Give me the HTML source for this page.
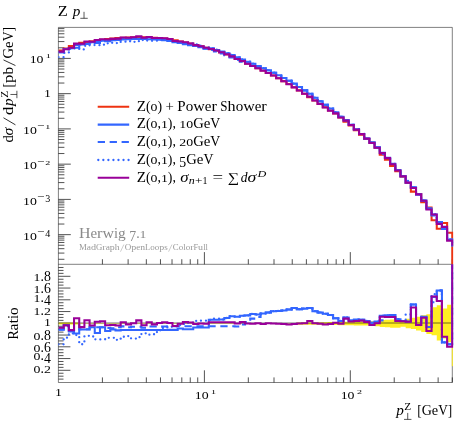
<!DOCTYPE html>
<html><head><meta charset="utf-8"><title>Z pT</title>
<style>html,body{margin:0;padding:0;background:#fff;}svg{display:block;will-change:transform;}text{font-family:"Liberation Serif",serif;}</style></head>
<body>
<svg width="467" height="422" viewBox="0 0 467 422" font-family="'Liberation Serif', serif">
<rect width="467" height="422" fill="#fff"/>
<defs><clipPath id="cm"><rect x="58.4" y="27.4" width="395" height="236.9"/></clipPath><clipPath id="cr"><rect x="58.4" y="264.3" width="395" height="118.2"/></clipPath></defs>
<path d="M58.4 27.4 H452.3 V382.5 H58.4 Z M58.4 264.3 H452.3" stroke="#000" stroke-width="0.5" fill="none"/>
<path d="M102.42 264.3 v-5.1 M102.42 382.5 v-5.1 M128.11 264.3 v-5.1 M128.11 382.5 v-5.1 M146.34 264.3 v-5.1 M146.34 382.5 v-5.1 M160.48 264.3 v-5.1 M160.48 382.5 v-5.1 M172.03 264.3 v-5.1 M172.03 382.5 v-5.1 M181.8 264.3 v-5.1 M181.8 382.5 v-5.1 M190.26 264.3 v-5.1 M190.26 382.5 v-5.1 M197.72 264.3 v-5.1 M197.72 382.5 v-5.1 M204.4 264.3 v-12.2 M204.4 382.5 v-12.2 M248.32 264.3 v-5.1 M248.32 382.5 v-5.1 M274.01 264.3 v-5.1 M274.01 382.5 v-5.1 M292.24 264.3 v-5.1 M292.24 382.5 v-5.1 M306.38 264.3 v-5.1 M306.38 382.5 v-5.1 M317.93 264.3 v-5.1 M317.93 382.5 v-5.1 M327.7 264.3 v-5.1 M327.7 382.5 v-5.1 M336.16 264.3 v-5.1 M336.16 382.5 v-5.1 M343.62 264.3 v-5.1 M343.62 382.5 v-5.1 M350.3 264.3 v-12.2 M350.3 382.5 v-12.2 M394.22 264.3 v-5.1 M394.22 382.5 v-5.1 M419.91 264.3 v-5.1 M419.91 382.5 v-5.1 M438.14 264.3 v-5.1 M438.14 382.5 v-5.1 M452.28 264.3 v-5.1 M452.28 382.5 v-5.1 M58.4 259.29 h6 M58.4 253.08 h6 M58.4 248.68 h6 M58.4 245.26 h6 M58.4 242.47 h6 M58.4 240.11 h6 M58.4 238.07 h6 M58.4 236.26 h6 M58.4 234.65 h12.4 M58.4 224.04 h6 M58.4 217.83 h6 M58.4 213.43 h6 M58.4 210.01 h6 M58.4 207.22 h6 M58.4 204.86 h6 M58.4 202.82 h6 M58.4 201.01 h6 M58.4 199.4 h12.4 M58.4 188.79 h6 M58.4 182.58 h6 M58.4 178.18 h6 M58.4 174.76 h6 M58.4 171.97 h6 M58.4 169.61 h6 M58.4 167.57 h6 M58.4 165.76 h6 M58.4 164.15 h12.4 M58.4 153.54 h6 M58.4 147.33 h6 M58.4 142.93 h6 M58.4 139.51 h6 M58.4 136.72 h6 M58.4 134.36 h6 M58.4 132.32 h6 M58.4 130.51 h6 M58.4 128.9 h12.4 M58.4 118.29 h6 M58.4 112.08 h6 M58.4 107.68 h6 M58.4 104.26 h6 M58.4 101.47 h6 M58.4 99.11 h6 M58.4 97.07 h6 M58.4 95.26 h6 M58.4 93.65 h12.4 M58.4 83.04 h6 M58.4 76.83 h6 M58.4 72.43 h6 M58.4 69.01 h6 M58.4 66.22 h6 M58.4 63.86 h6 M58.4 61.82 h6 M58.4 60.01 h6 M58.4 58.4 h12.4 M58.4 47.79 h6 M58.4 41.58 h6 M58.4 37.18 h6 M58.4 33.76 h6 M58.4 30.97 h6 M58.4 28.61 h6 M58.4 379.11 h5.1 M58.4 376.18 h5.1 M58.4 373.24 h5.1 M58.4 370.3 h12 M58.4 367.36 h5.1 M58.4 364.43 h5.1 M58.4 361.49 h5.1 M58.4 358.55 h12 M58.4 355.61 h5.1 M58.4 352.68 h5.1 M58.4 349.74 h5.1 M58.4 346.8 h12 M58.4 343.86 h5.1 M58.4 340.93 h5.1 M58.4 337.99 h5.1 M58.4 335.05 h12 M58.4 332.11 h5.1 M58.4 329.18 h5.1 M58.4 326.24 h5.1 M58.4 323.3 h12 M58.4 320.36 h5.1 M58.4 317.43 h5.1 M58.4 314.49 h5.1 M58.4 311.55 h12 M58.4 308.61 h5.1 M58.4 305.68 h5.1 M58.4 302.74 h5.1 M58.4 299.8 h12 M58.4 296.86 h5.1 M58.4 293.93 h5.1 M58.4 290.99 h5.1 M58.4 288.05 h12 M58.4 285.11 h5.1 M58.4 282.18 h5.1 M58.4 279.24 h5.1 M58.4 276.3 h12 M58.4 273.36 h5.1 M58.4 270.43 h5.1 M58.4 267.49 h5.1" stroke="#000" stroke-width="0.68" fill="none"/>
<g clip-path="url(#cr)">
<path d="M58.5 322.49 L63.68 322.49 L63.68 322.49 L68.86 322.49 L68.86 322.49 L74.04 322.49 L74.04 322.49 L79.23 322.49 L79.23 323.26 L84.41 323.26 L84.41 323.26 L89.59 323.26 L89.59 323.26 L94.77 323.26 L94.77 323.26 L99.95 323.26 L99.95 323.26 L105.13 323.26 L105.13 323.26 L110.32 323.26 L110.32 323.26 L115.5 323.26 L115.5 323.26 L120.68 323.26 L120.68 323.26 L125.86 323.26 L125.86 323.26 L131.04 323.26 L131.04 323.26 L136.22 323.26 L136.22 323.26 L141.41 323.26 L141.41 323.26 L146.59 323.26 L146.59 323.26 L151.77 323.26 L151.77 323.26 L156.95 323.26 L156.95 323.26 L162.13 323.26 L162.13 323.26 L167.31 323.26 L167.31 323.26 L172.49 323.26 L172.49 323.26 L177.68 323.26 L177.68 323.26 L182.86 323.26 L182.86 323.26 L188.04 323.26 L188.04 323.26 L193.22 323.26 L193.22 323.26 L198.4 323.26 L198.4 323.26 L203.58 323.26 L203.58 323.26 L208.77 323.26 L208.77 323.26 L213.95 323.26 L213.95 323.26 L219.13 323.26 L219.13 323.26 L224.31 323.26 L224.31 323.26 L229.49 323.26 L229.49 323.26 L234.67 323.26 L234.67 323.26 L239.86 323.26 L239.86 323.26 L245.04 323.26 L245.04 323.26 L250.22 323.26 L250.22 323.26 L255.4 323.26 L255.4 323.26 L260.58 323.26 L260.58 323.26 L265.76 323.26 L265.76 323.26 L270.94 323.26 L270.94 323.26 L276.13 323.26 L276.13 323.26 L281.31 323.26 L281.31 323.26 L286.49 323.26 L286.49 323.26 L291.67 323.26 L291.67 323.26 L296.85 323.26 L296.85 322.38 L302.03 322.38 L302.03 322.38 L307.22 322.38 L307.22 322.38 L312.4 322.38 L312.4 322.38 L317.58 322.38 L317.58 322.26 L322.76 322.26 L322.76 322.26 L327.94 322.26 L327.94 322.08 L333.12 322.08 L333.12 322.08 L338.31 322.08 L338.31 321.91 L343.49 321.91 L343.49 321.79 L348.67 321.79 L348.67 321.79 L353.85 321.79 L353.85 321.67 L359.03 321.67 L359.03 321.49 L364.21 321.49 L364.21 321.49 L369.39 321.49 L369.39 321.2 L374.58 321.2 L374.58 320.91 L379.76 320.91 L379.76 320.03 L384.94 320.03 L384.94 319.73 L390.12 319.73 L390.12 319.44 L395.3 319.44 L395.3 319.44 L400.48 319.44 L400.48 320.32 L405.67 320.32 L405.67 318.85 L410.85 318.85 L410.85 317.68 L416.03 317.68 L416.03 316.79 L421.21 316.79 L421.21 315.32 L426.39 315.32 L426.39 314.15 L431.57 314.15 L431.57 307.34 L436.76 307.34 L436.76 305.34 L441.94 305.34 L441.94 308.57 L447.12 308.57 L447.12 304.75 L452.3 304.75 L452.3 342.35 L447.12 342.35 L447.12 338.53 L441.94 338.53 L441.94 340.59 L436.76 340.59 L436.76 335.3 L431.57 335.3 L431.57 334.12 L426.39 334.12 L426.39 331.95 L421.21 331.95 L421.21 330.6 L416.03 330.6 L416.03 329.07 L410.85 329.07 L410.85 328.37 L405.67 328.37 L405.67 326.78 L400.48 326.78 L400.48 327.66 L395.3 327.66 L395.3 327.66 L390.12 327.66 L390.12 327.37 L384.94 327.37 L384.94 327.07 L379.76 327.07 L379.76 326.19 L374.58 326.19 L374.58 325.9 L369.39 325.9 L369.39 325.61 L364.21 325.61 L364.21 325.61 L359.03 325.61 L359.03 325.43 L353.85 325.43 L353.85 325.31 L348.67 325.31 L348.67 325.31 L343.49 325.31 L343.49 325.19 L338.31 325.19 L338.31 325.02 L333.12 325.02 L333.12 325.02 L327.94 325.02 L327.94 324.84 L322.76 324.84 L322.76 324.84 L317.58 324.84 L317.58 324.73 L312.4 324.73 L312.4 324.73 L307.22 324.73 L307.22 324.73 L302.03 324.73 L302.03 324.73 L296.85 324.73 L296.85 323.84 L291.67 323.84 L291.67 323.84 L286.49 323.84 L286.49 323.84 L281.31 323.84 L281.31 323.84 L276.13 323.84 L276.13 323.84 L270.94 323.84 L270.94 323.84 L265.76 323.84 L265.76 323.84 L260.58 323.84 L260.58 323.84 L255.4 323.84 L255.4 323.84 L250.22 323.84 L250.22 323.84 L245.04 323.84 L245.04 323.84 L239.86 323.84 L239.86 323.84 L234.67 323.84 L234.67 323.84 L229.49 323.84 L229.49 323.84 L224.31 323.84 L224.31 323.84 L219.13 323.84 L219.13 323.84 L213.95 323.84 L213.95 323.84 L208.77 323.84 L208.77 323.84 L203.58 323.84 L203.58 323.84 L198.4 323.84 L198.4 323.84 L193.22 323.84 L193.22 323.84 L188.04 323.84 L188.04 323.84 L182.86 323.84 L182.86 323.84 L177.68 323.84 L177.68 323.84 L172.49 323.84 L172.49 323.84 L167.31 323.84 L167.31 323.84 L162.13 323.84 L162.13 323.84 L156.95 323.84 L156.95 323.84 L151.77 323.84 L151.77 323.84 L146.59 323.84 L146.59 323.84 L141.41 323.84 L141.41 323.84 L136.22 323.84 L136.22 323.84 L131.04 323.84 L131.04 323.84 L125.86 323.84 L125.86 323.84 L120.68 323.84 L120.68 323.84 L115.5 323.84 L115.5 323.84 L110.32 323.84 L110.32 323.84 L105.13 323.84 L105.13 323.84 L99.95 323.84 L99.95 323.84 L94.77 323.84 L94.77 323.84 L89.59 323.84 L89.59 323.84 L84.41 323.84 L84.41 323.84 L79.23 323.84 L79.23 324.61 L74.04 324.61 L74.04 324.61 L68.86 324.61 L68.86 324.61 L63.68 324.61 L63.68 324.61 L58.5 324.61Z" fill="#ffee22"/>
<path d="M452.3 302.74 V366.19" stroke="#ffee22" stroke-width="1" fill="none"/>
<path d="M58.4 323 H452.3" stroke="#000" stroke-width="0.55" fill="none"/>
<path d="M58.5 329.53 L63.68 329.53 L63.68 325.06 L68.86 325.06 L68.86 331.47 L74.04 331.47 L74.04 333.41 L79.23 333.41 L79.23 329.53 L84.41 329.53 L84.41 329.53 L89.59 329.53 L89.59 327.3 L94.77 327.3 L94.77 332.99 L99.95 332.99 L99.95 327.3 L105.13 327.3 L105.13 331.06 L110.32 331.06 L110.32 329.47 L115.5 329.47 L115.5 330.35 L120.68 330.35 L120.68 330.06 L125.86 330.06 L125.86 330 L131.04 330 L131.04 330 L136.22 330 L136.22 330 L141.41 330 L141.41 330 L146.59 330 L146.59 330 L151.77 330 L151.77 330 L156.95 330 L156.95 330 L162.13 330 L162.13 330 L167.31 330 L167.31 329.88 L172.49 329.88 L172.49 329.88 L177.68 329.88 L177.68 328.59 L182.86 328.59 L182.86 329.18 L188.04 329.18 L188.04 329.18 L193.22 329.18 L193.22 327.41 L198.4 327.41 L198.4 327.41 L203.58 327.41 L203.58 327.41 L208.77 327.41 L208.77 319.78 L213.95 319.78 L213.95 319.78 L219.13 319.78 L219.13 319.48 L224.31 319.48 L224.31 318.01 L229.49 318.01 L229.49 316.25 L234.67 316.25 L234.67 316.72 L239.86 316.72 L239.86 315.66 L245.04 315.66 L245.04 315.37 L250.22 315.37 L250.22 313.9 L255.4 313.9 L255.4 314.49 L260.58 314.49 L260.58 313.55 L265.76 313.55 L265.76 312.49 L270.94 312.49 L270.94 311.2 L276.13 311.2 L276.13 310.96 L281.31 310.96 L281.31 310.55 L286.49 310.55 L286.49 309.49 L291.67 309.49 L291.67 308.03 L296.85 308.03 L296.85 309.2 L302.03 309.2 L302.03 308.61 L307.22 308.61 L307.22 308.03 L312.4 308.03 L312.4 311.2 L317.58 311.2 L317.58 312.49 L322.76 312.49 L322.76 313.78 L327.94 313.78 L327.94 315.08 L333.12 315.08 L333.12 318.31 L338.31 318.31 L338.31 320.95 L343.49 320.95 L343.49 317.43 L348.67 317.43 L348.67 320.6 L353.85 320.6 L353.85 319.6 L359.03 319.6 L359.03 319.78 L364.21 319.78 L364.21 320.95 L369.39 320.95 L369.39 322.71 L374.58 322.71 L374.58 321.54 L379.76 321.54 L379.76 315.66 L384.94 315.66 L384.94 315.49 L390.12 315.49 L390.12 315.08 L395.3 315.08 L395.3 319.19 L400.48 319.19 L400.48 320.95 L405.67 320.95 L405.67 321.54 L410.85 321.54 L410.85 304.5 L416.03 304.5 L416.03 325.06 L421.21 325.06 L421.21 316.84 L426.39 316.84 L426.39 327 L431.57 327 L431.57 296.86 L436.76 296.86 L436.76 290.4 L441.94 290.4 L441.94 342.39 L447.12 342.39 L447.12 344.16 L452.3 344.16 L452.3 235.18" stroke="#3366ff" fill="none" stroke-width="2.05" stroke-linejoin="miter"/>
<path d="M58.5 329.76 L63.68 329.76 L63.68 326.24 L68.86 326.24 L68.86 330.94 L74.04 330.94 L74.04 324.06 L79.23 324.06 L79.23 329.18 L84.41 329.18 L84.41 329.18 L89.59 329.18 L89.59 327.3 L94.77 327.3 L94.77 327.3 L99.95 327.3 L99.95 327.3 L105.13 327.3 L105.13 328 L110.32 328 L110.32 328.29 L115.5 328.29 L115.5 327.3 L120.68 327.3 L120.68 326.36 L125.86 326.36 L125.86 327.3 L131.04 327.3 L131.04 326.82 L136.22 326.82 L136.22 326.82 L141.41 326.82 L141.41 327.71 L146.59 327.71 L146.59 326.53 L151.77 326.53 L151.77 326.53 L156.95 326.53 L156.95 326.82 L162.13 326.82 L162.13 326.53 L167.31 326.53 L167.31 326.24 L172.49 326.24 L172.49 326.24 L177.68 326.24 L177.68 326.24 L182.86 326.24 L182.86 326.24 L188.04 326.24 L188.04 326.24 L193.22 326.24 L193.22 326.24 L198.4 326.24 L198.4 326.24 L203.58 326.24 L203.58 326.24 L208.77 326.24 L208.77 326.24 L213.95 326.24 L213.95 326.24 L219.13 326.24 L219.13 326.24 L224.31 326.24 L224.31 326.24 L229.49 326.24 L229.49 326.24 L234.67 326.24 L234.67 326.53 L239.86 326.53 L239.86 324.48 L245.04 324.48 L245.04 322.12 L250.22 322.12 L250.22 318.6 L255.4 318.6 L255.4 317.01 L260.58 317.01 L260.58 313.55 L265.76 313.55 L265.76 312.49 L270.94 312.49 L270.94 311.2 L276.13 311.2 L276.13 310.96 L281.31 310.96 L281.31 310.55 L286.49 310.55 L286.49 309.49 L291.67 309.49 L291.67 308.03 L296.85 308.03 L296.85 309.2 L302.03 309.2 L302.03 308.61 L307.22 308.61 L307.22 308.03 L312.4 308.03 L312.4 311.2 L317.58 311.2 L317.58 312.49 L322.76 312.49 L322.76 313.78 L327.94 313.78 L327.94 315.08 L333.12 315.08 L333.12 318.31 L338.31 318.31 L338.31 320.95 L343.49 320.95 L343.49 317.43 L348.67 317.43 L348.67 320.6 L353.85 320.6 L353.85 319.6 L359.03 319.6 L359.03 319.78 L364.21 319.78 L364.21 320.95 L369.39 320.95 L369.39 322.71 L374.58 322.71 L374.58 321.54 L379.76 321.54 L379.76 320.36 L384.94 320.36 L384.94 315.49 L390.12 315.49 L390.12 315.08 L395.3 315.08 L395.3 319.19 L400.48 319.19 L400.48 320.95 L405.67 320.95 L405.67 321.54 L410.85 321.54 L410.85 304.5 L416.03 304.5 L416.03 325.06 L421.21 325.06 L421.21 316.84 L426.39 316.84 L426.39 327 L431.57 327 L431.57 302.15 L436.76 302.15 L436.76 290.4 L441.94 290.4 L441.94 342.39 L447.12 342.39 L447.12 344.16 L452.3 344.16 L452.3 235.18" stroke="#3366ff" fill="none" stroke-width="2.05" stroke-linejoin="miter" stroke-dasharray="7.3 4.65"/>
<path d="M58.5 344.33 L63.68 344.33 L63.68 337.69 L68.86 337.69 L68.86 333.46 L74.04 333.46 L74.04 335.05 L79.23 335.05 L79.23 344.27 L84.41 344.27 L84.41 335.81 L89.59 335.81 L89.59 336.52 L94.77 336.52 L94.77 339.34 L99.95 339.34 L99.95 339.46 L105.13 339.46 L105.13 337.87 L110.32 337.87 L110.32 337.87 L115.5 337.87 L115.5 339.87 L120.68 339.87 L120.68 336.75 L125.86 336.75 L125.86 336.11 L131.04 336.11 L131.04 338.57 L136.22 338.57 L136.22 337.22 L141.41 337.22 L141.41 333.29 L146.59 333.29 L146.59 334.64 L151.77 334.64 L151.77 334.23 L156.95 334.23 L156.95 330.35 L162.13 330.35 L162.13 328 L167.31 328 L167.31 326.82 L172.49 326.82 L172.49 326.24 L177.68 326.24 L177.68 325.06 L182.86 325.06 L182.86 323.89 L188.04 323.89 L188.04 322.71 L193.22 322.71 L193.22 320.95 L198.4 320.95 L198.4 320.66 L203.58 320.66 L203.58 320.66 L208.77 320.66 L208.77 319.78 L213.95 319.78 L213.95 318.6 L219.13 318.6 L219.13 319.48 L224.31 319.48 L224.31 318.01 L229.49 318.01 L229.49 316.25 L234.67 316.25 L234.67 316.72 L239.86 316.72 L239.86 315.66 L245.04 315.66 L245.04 315.37 L250.22 315.37 L250.22 313.9 L255.4 313.9 L255.4 314.49 L260.58 314.49 L260.58 313.55 L265.76 313.55 L265.76 312.49 L270.94 312.49 L270.94 311.2 L276.13 311.2 L276.13 310.96 L281.31 310.96 L281.31 310.55 L286.49 310.55 L286.49 309.49 L291.67 309.49 L291.67 308.03 L296.85 308.03 L296.85 309.2 L302.03 309.2 L302.03 308.61 L307.22 308.61 L307.22 308.03 L312.4 308.03 L312.4 311.2 L317.58 311.2 L317.58 312.49 L322.76 312.49 L322.76 313.78 L327.94 313.78 L327.94 315.08 L333.12 315.08 L333.12 318.31 L338.31 318.31 L338.31 320.95 L343.49 320.95 L343.49 317.43 L348.67 317.43 L348.67 320.6 L353.85 320.6 L353.85 319.6 L359.03 319.6 L359.03 319.78 L364.21 319.78 L364.21 320.95 L369.39 320.95 L369.39 322.71 L374.58 322.71 L374.58 321.54 L379.76 321.54 L379.76 315.66 L384.94 315.66 L384.94 315.49 L390.12 315.49 L390.12 315.08 L395.3 315.08 L395.3 319.19 L400.48 319.19 L400.48 320.95 L405.67 320.95 L405.67 314.49 L410.85 314.49 L410.85 304.5 L416.03 304.5 L416.03 325.06 L421.21 325.06 L421.21 316.84 L426.39 316.84 L426.39 327 L431.57 327 L431.57 294.22 L436.76 294.22 L436.76 290.4 L441.94 290.4 L441.94 342.39 L447.12 342.39 L447.12 344.16 L452.3 344.16 L452.3 235.18" stroke="#3366ff" fill="none" stroke-width="2.3" stroke-linejoin="miter" stroke-dasharray="0.01 5.03" stroke-linecap="round"/>
<path d="M58.5 327.76 L63.68 327.76 L63.68 325.36 L68.86 325.36 L68.86 330.12 L74.04 330.12 L74.04 318.31 L79.23 318.31 L79.23 327.12 L84.41 327.12 L84.41 320.19 L89.59 320.19 L89.59 325.47 L94.77 325.47 L94.77 321.83 L99.95 321.83 L99.95 321.24 L105.13 321.24 L105.13 325.18 L110.32 325.18 L110.32 325.06 L115.5 325.06 L115.5 325.53 L120.68 325.53 L120.68 322.24 L125.86 322.24 L125.86 324.36 L131.04 324.36 L131.04 323.3 L136.22 323.3 L136.22 320.36 L141.41 320.36 L141.41 325.24 L146.59 325.24 L146.59 322.24 L151.77 322.24 L151.77 324.36 L156.95 324.36 L156.95 323.06 L162.13 323.06 L162.13 322.24 L167.31 322.24 L167.31 323.06 L172.49 323.06 L172.49 326 L177.68 326 L177.68 323.71 L182.86 323.71 L182.86 322.12 L188.04 322.12 L188.04 322.42 L193.22 322.42 L193.22 324.06 L198.4 324.06 L198.4 323.54 L203.58 323.54 L203.58 323.71 L208.77 323.71 L208.77 322.3 L213.95 322.3 L213.95 322.3 L219.13 322.3 L219.13 322.3 L224.31 322.3 L224.31 322.3 L229.49 322.3 L229.49 322.3 L234.67 322.3 L234.67 323.59 L239.86 323.59 L239.86 322.12 L245.04 322.12 L245.04 323.42 L250.22 323.42 L250.22 323.71 L255.4 323.71 L255.4 323.3 L260.58 323.3 L260.58 324.06 L265.76 324.06 L265.76 323.3 L270.94 323.3 L270.94 323.42 L276.13 323.42 L276.13 323.71 L281.31 323.71 L281.31 324.06 L286.49 324.06 L286.49 324.48 L291.67 324.48 L291.67 324.06 L296.85 324.06 L296.85 323.42 L302.03 323.42 L302.03 323.3 L307.22 323.3 L307.22 320.95 L312.4 320.95 L312.4 323.3 L317.58 323.3 L317.58 323.71 L322.76 323.71 L322.76 324.48 L327.94 324.48 L327.94 324.06 L333.12 324.06 L333.12 322.71 L338.31 322.71 L338.31 323.71 L343.49 323.71 L343.49 318.6 L348.67 318.6 L348.67 321.54 L353.85 321.54 L353.85 320.95 L359.03 320.95 L359.03 320.6 L364.21 320.6 L364.21 321.89 L369.39 321.89 L369.39 325.06 L374.58 325.06 L374.58 323.3 L379.76 323.3 L379.76 316.84 L384.94 316.84 L384.94 317.01 L390.12 317.01 L390.12 317.01 L395.3 317.01 L395.3 320.95 L400.48 320.95 L400.48 321.24 L405.67 321.24 L405.67 321.83 L410.85 321.83 L410.85 307.44 L416.03 307.44 L416.03 325.06 L421.21 325.06 L421.21 317.72 L426.39 317.72 L426.39 331.06 L431.57 331.06 L431.57 296.57 L436.76 296.57 L436.76 300.98 L441.94 300.98 L441.94 336.69 L447.12 336.69 L447.12 346.8 L452.3 346.8 L452.3 235.18" stroke="#990099" fill="none" stroke-width="2.05" stroke-linejoin="miter"/>
</g>
<g clip-path="url(#cm)">
<path d="M58.5 50.4 L63.68 50.4 L63.68 48.61 L68.86 48.61 L68.86 45.92 L74.04 45.92 L74.04 44.88 L79.23 44.88 L79.23 42.7 L84.41 42.7 L84.41 42.2 L89.59 42.2 L89.59 41.2 L94.77 41.2 L94.77 40.31 L99.95 40.31 L99.95 39.71 L105.13 39.71 L105.13 39 L110.32 39 L110.32 38.4 L115.5 38.4 L115.5 38.04 L120.68 38.04 L120.68 37.69 L125.86 37.69 L125.86 37.46 L131.04 37.46 L131.04 37.23 L136.22 37.23 L136.22 37.01 L141.41 37.01 L141.41 37.16 L146.59 37.16 L146.59 37.34 L151.77 37.34 L151.77 37.66 L156.95 37.66 L156.95 37.98 L162.13 37.98 L162.13 38.45 L167.31 38.45 L167.31 39.12 L172.49 39.12 L172.49 40.36 L177.68 40.36 L177.68 41.48 L182.86 41.48 L182.86 42.54 L188.04 42.54 L188.04 43.63 L193.22 43.63 L193.22 44.92 L198.4 44.92 L198.4 46.2 L203.58 46.2 L203.58 47.66 L208.77 47.66 L208.77 49.2 L213.95 49.2 L213.95 50.79 L219.13 50.79 L219.13 52.56 L224.31 52.56 L224.31 54.53 L229.49 54.53 L229.49 56.64 L234.67 56.64 L234.67 58.98 L239.86 58.98 L239.86 61.33 L245.04 61.33 L245.04 63.64 L250.22 63.64 L250.22 65.92 L255.4 65.92 L255.4 68.23 L260.58 68.23 L260.58 70.58 L265.76 70.58 L265.76 72.93 L270.94 72.93 L270.94 75.53 L276.13 75.53 L276.13 78.21 L281.31 78.21 L281.31 81.1 L286.49 81.1 L286.49 83.99 L291.67 83.99 L291.67 87.18 L296.85 87.18 L296.85 90.37 L302.03 90.37 L302.03 93.78 L307.22 93.78 L307.22 97.2 L312.4 97.2 L312.4 100.54 L317.58 100.54 L317.58 103.88 L322.76 103.88 L322.76 107.17 L327.94 107.17 L327.94 110.46 L333.12 110.46 L333.12 113.5 L338.31 113.5 L338.31 117.4 L343.49 117.4 L343.49 121.8 L348.67 121.8 L348.67 125.5 L353.85 125.5 L353.85 130.2 L359.03 130.2 L359.03 134.8 L364.21 134.8 L364.21 139 L369.39 139 L369.39 142.6 L374.58 142.6 L374.58 147.8 L379.76 147.8 L379.76 154.7 L384.94 154.7 L384.94 159.7 L390.12 159.7 L390.12 165.9 L395.3 165.9 L395.3 171.1 L400.48 171.1 L400.48 176.7 L405.67 176.7 L405.67 183 L410.85 183 L410.85 191.6 L416.03 191.6 L416.03 193.9 L421.21 193.9 L421.21 202.2 L426.39 202.2 L426.39 207.4 L431.57 207.4 L431.57 220.3 L436.76 220.3 L436.76 228.8 L441.94 228.8 L441.94 222.9 L447.12 222.9 L447.12 232.8 L452.3 232.8 L452.3 269.3" stroke="#ee3311" fill="none" stroke-width="2.05" stroke-linejoin="miter"/>
<path d="M58.5 52.12 L63.68 52.12 L63.68 49.08 L68.86 49.08 L68.86 48.22 L74.04 48.22 L74.04 47.77 L79.23 47.77 L79.23 44.41 L84.41 44.41 L84.41 43.92 L89.59 43.92 L89.59 42.28 L94.77 42.28 L94.77 43.07 L99.95 43.07 L99.95 40.78 L105.13 40.78 L105.13 41.16 L110.32 41.16 L110.32 40.1 L115.5 40.1 L115.5 40 L120.68 40 L120.68 39.56 L125.86 39.56 L125.86 39.31 L131.04 39.31 L131.04 39.09 L136.22 39.09 L136.22 38.86 L141.41 38.86 L141.41 39.01 L146.59 39.01 L146.59 39.19 L151.77 39.19 L151.77 39.52 L156.95 39.52 L156.95 39.84 L162.13 39.84 L162.13 40.3 L167.31 40.3 L167.31 40.94 L172.49 40.94 L172.49 42.18 L177.68 42.18 L177.68 42.93 L182.86 42.93 L182.86 44.15 L188.04 44.15 L188.04 45.24 L193.22 45.24 L193.22 46.03 L198.4 46.03 L198.4 47.31 L203.58 47.31 L203.58 48.77 L208.77 48.77 L208.77 48.31 L213.95 48.31 L213.95 49.9 L219.13 49.9 L219.13 51.6 L224.31 51.6 L224.31 53.21 L229.49 53.21 L229.49 54.9 L234.67 54.9 L234.67 57.36 L239.86 57.36 L239.86 59.46 L245.04 59.46 L245.04 61.7 L250.22 61.7 L250.22 63.65 L255.4 63.65 L255.4 66.09 L260.58 66.09 L260.58 68.23 L265.76 68.23 L265.76 70.34 L270.94 70.34 L270.94 72.67 L276.13 72.67 L276.13 75.29 L281.31 75.29 L281.31 78.09 L286.49 78.09 L286.49 80.76 L291.67 80.76 L291.67 83.64 L296.85 83.64 L296.85 87.07 L302.03 87.07 L302.03 90.37 L307.22 90.37 L307.22 93.67 L312.4 93.67 L312.4 97.67 L317.58 97.67 L317.58 101.29 L322.76 101.29 L322.76 104.87 L327.94 104.87 L327.94 108.45 L333.12 108.45 L333.12 112.25 L338.31 112.25 L338.31 116.8 L343.49 116.8 L343.49 120.34 L348.67 120.34 L348.67 124.81 L353.85 124.81 L353.85 129.26 L359.03 129.26 L359.03 133.91 L364.21 133.91 L364.21 138.4 L369.39 138.4 L369.39 142.45 L374.58 142.45 L374.58 147.35 L379.76 147.35 L379.76 152.83 L384.94 152.83 L384.94 157.79 L390.12 157.79 L390.12 163.89 L395.3 163.89 L395.3 170.06 L400.48 170.06 L400.48 176.1 L405.67 176.1 L405.67 182.55 L410.85 182.55 L410.85 187.35 L416.03 187.35 L416.03 194.37 L421.21 194.37 L421.21 200.6 L426.39 200.6 L426.39 208.4 L431.57 208.4 L431.57 214.61 L436.76 214.61 L436.76 221.99 L441.94 221.99 L441.94 228.92 L447.12 228.92 L447.12 239.51 L452.3 239.51 L452.3 246.5" stroke="#3366ff" fill="none" stroke-width="2.05" stroke-linejoin="miter"/>
<path d="M58.5 52.18 L63.68 52.18 L63.68 49.39 L68.86 49.39 L68.86 48.06 L74.04 48.06 L74.04 45.09 L79.23 45.09 L79.23 44.31 L84.41 44.31 L84.41 43.81 L89.59 43.81 L89.59 42.28 L94.77 42.28 L94.77 41.38 L99.95 41.38 L99.95 40.78 L105.13 40.78 L105.13 40.27 L110.32 40.27 L110.32 39.76 L115.5 39.76 L115.5 39.12 L120.68 39.12 L120.68 38.51 L125.86 38.51 L125.86 38.54 L131.04 38.54 L131.04 38.18 L136.22 38.18 L136.22 37.96 L141.41 37.96 L141.41 38.35 L146.59 38.35 L146.59 38.21 L151.77 38.21 L151.77 38.53 L156.95 38.53 L156.95 38.93 L162.13 38.93 L162.13 39.32 L167.31 39.32 L167.31 39.9 L172.49 39.9 L172.49 41.15 L177.68 41.15 L177.68 42.27 L182.86 42.27 L182.86 43.32 L188.04 43.32 L188.04 44.42 L193.22 44.42 L193.22 45.7 L198.4 45.7 L198.4 46.99 L203.58 46.99 L203.58 48.45 L208.77 48.45 L208.77 49.98 L213.95 49.98 L213.95 51.57 L219.13 51.57 L219.13 53.35 L224.31 53.35 L224.31 55.32 L229.49 55.32 L229.49 57.42 L234.67 57.42 L234.67 59.85 L239.86 59.85 L239.86 61.64 L245.04 61.64 L245.04 63.33 L250.22 63.33 L250.22 64.75 L255.4 64.75 L255.4 66.67 L260.58 66.67 L260.58 68.23 L265.76 68.23 L265.76 70.34 L270.94 70.34 L270.94 72.67 L276.13 72.67 L276.13 75.29 L281.31 75.29 L281.31 78.09 L286.49 78.09 L286.49 80.76 L291.67 80.76 L291.67 83.64 L296.85 83.64 L296.85 87.07 L302.03 87.07 L302.03 90.37 L307.22 90.37 L307.22 93.67 L312.4 93.67 L312.4 97.67 L317.58 97.67 L317.58 101.29 L322.76 101.29 L322.76 104.87 L327.94 104.87 L327.94 108.45 L333.12 108.45 L333.12 112.25 L338.31 112.25 L338.31 116.8 L343.49 116.8 L343.49 120.34 L348.67 120.34 L348.67 124.81 L353.85 124.81 L353.85 129.26 L359.03 129.26 L359.03 133.91 L364.21 133.91 L364.21 138.4 L369.39 138.4 L369.39 142.45 L374.58 142.45 L374.58 147.35 L379.76 147.35 L379.76 153.95 L384.94 153.95 L384.94 157.79 L390.12 157.79 L390.12 163.89 L395.3 163.89 L395.3 170.06 L400.48 170.06 L400.48 176.1 L405.67 176.1 L405.67 182.55 L410.85 182.55 L410.85 187.35 L416.03 187.35 L416.03 194.37 L421.21 194.37 L421.21 200.6 L426.39 200.6 L426.39 208.4 L431.57 208.4 L431.57 215.59 L436.76 215.59 L436.76 221.99 L441.94 221.99 L441.94 228.92 L447.12 228.92 L447.12 239.51 L452.3 239.51 L452.3 246.5" stroke="#3366ff" fill="none" stroke-width="2.05" stroke-linejoin="miter" stroke-dasharray="7.3 4.65"/>
<path d="M58.5 57.18 L63.68 57.18 L63.68 52.91 L68.86 52.91 L68.86 48.83 L74.04 48.83 L74.04 48.3 L79.23 48.3 L79.23 49.46 L84.41 49.46 L84.41 45.87 L89.59 45.87 L89.59 45.11 L94.77 45.11 L94.77 45.19 L99.95 45.19 L99.95 44.63 L105.13 44.63 L105.13 43.36 L110.32 43.36 L110.32 42.76 L115.5 42.76 L115.5 43.11 L120.68 43.11 L120.68 41.67 L125.86 41.67 L125.86 41.23 L131.04 41.23 L131.04 41.84 L136.22 41.84 L136.22 41.15 L141.41 41.15 L141.41 40.01 L146.59 40.01 L146.59 40.62 L151.77 40.62 L151.77 40.81 L156.95 40.81 L156.95 39.94 L162.13 39.94 L162.13 39.73 L167.31 39.73 L167.31 40.06 L172.49 40.06 L172.49 41.15 L177.68 41.15 L177.68 41.95 L182.86 41.95 L182.86 42.69 L188.04 42.69 L188.04 43.48 L193.22 43.48 L193.22 44.32 L198.4 44.32 L198.4 45.53 L203.58 45.53 L203.58 46.99 L208.77 46.99 L208.77 48.31 L213.95 48.31 L213.95 49.61 L219.13 49.61 L219.13 51.6 L224.31 51.6 L224.31 53.21 L229.49 53.21 L229.49 54.9 L234.67 54.9 L234.67 57.36 L239.86 57.36 L239.86 59.46 L245.04 59.46 L245.04 61.7 L250.22 61.7 L250.22 63.65 L255.4 63.65 L255.4 66.09 L260.58 66.09 L260.58 68.23 L265.76 68.23 L265.76 70.34 L270.94 70.34 L270.94 72.67 L276.13 72.67 L276.13 75.29 L281.31 75.29 L281.31 78.09 L286.49 78.09 L286.49 80.76 L291.67 80.76 L291.67 83.64 L296.85 83.64 L296.85 87.07 L302.03 87.07 L302.03 90.37 L307.22 90.37 L307.22 93.67 L312.4 93.67 L312.4 97.67 L317.58 97.67 L317.58 101.29 L322.76 101.29 L322.76 104.87 L327.94 104.87 L327.94 108.45 L333.12 108.45 L333.12 112.25 L338.31 112.25 L338.31 116.8 L343.49 116.8 L343.49 120.34 L348.67 120.34 L348.67 124.81 L353.85 124.81 L353.85 129.26 L359.03 129.26 L359.03 133.91 L364.21 133.91 L364.21 138.4 L369.39 138.4 L369.39 142.45 L374.58 142.45 L374.58 147.35 L379.76 147.35 L379.76 152.83 L384.94 152.83 L384.94 157.79 L390.12 157.79 L390.12 163.89 L395.3 163.89 L395.3 170.06 L400.48 170.06 L400.48 176.1 L405.67 176.1 L405.67 180.86 L410.85 180.86 L410.85 187.35 L416.03 187.35 L416.03 194.37 L421.21 194.37 L421.21 200.6 L426.39 200.6 L426.39 208.4 L431.57 208.4 L431.57 214.14 L436.76 214.14 L436.76 221.99 L441.94 221.99 L441.94 228.92 L447.12 228.92 L447.12 239.51 L452.3 239.51 L452.3 246.5" stroke="#3366ff" fill="none" stroke-width="2.3" stroke-linejoin="miter" stroke-dasharray="0.01 5.03" stroke-linecap="round"/>
<path d="M58.5 51.61 L63.68 51.61 L63.68 49.15 L68.86 49.15 L68.86 47.81 L74.04 47.81 L74.04 43.64 L79.23 43.64 L79.23 43.73 L84.41 43.73 L84.41 41.41 L89.59 41.41 L89.59 41.78 L94.77 41.78 L94.77 39.93 L99.95 39.93 L99.95 39.18 L105.13 39.18 L105.13 39.5 L110.32 39.5 L110.32 38.87 L115.5 38.87 L115.5 38.63 L120.68 38.63 L120.68 37.42 L125.86 37.42 L125.86 37.74 L131.04 37.74 L131.04 37.23 L136.22 37.23 L136.22 36.26 L141.41 36.26 L141.41 37.67 L146.59 37.67 L146.59 37.07 L151.77 37.07 L151.77 37.94 L156.95 37.94 L156.95 37.92 L162.13 37.92 L162.13 38.18 L167.31 38.18 L167.31 39.06 L172.49 39.06 L172.49 41.08 L177.68 41.08 L177.68 41.59 L182.86 41.59 L182.86 42.23 L188.04 42.23 L188.04 43.4 L193.22 43.4 L193.22 45.12 L198.4 45.12 L198.4 46.26 L203.58 46.26 L203.58 47.77 L208.77 47.77 L208.77 48.94 L213.95 48.94 L213.95 50.53 L219.13 50.53 L219.13 52.3 L224.31 52.3 L224.31 54.27 L229.49 54.27 L229.49 56.38 L234.67 56.38 L234.67 59.06 L239.86 59.06 L239.86 61.03 L245.04 61.03 L245.04 63.67 L250.22 63.67 L250.22 66.03 L255.4 66.03 L255.4 68.23 L260.58 68.23 L260.58 70.78 L265.76 70.78 L265.76 72.93 L270.94 72.93 L270.94 75.57 L276.13 75.57 L276.13 78.32 L281.31 78.32 L281.31 81.3 L286.49 81.3 L286.49 84.3 L291.67 84.3 L291.67 87.38 L296.85 87.38 L296.85 90.4 L302.03 90.4 L302.03 93.78 L307.22 93.78 L307.22 96.6 L312.4 96.6 L312.4 100.54 L317.58 100.54 L317.58 103.99 L322.76 103.99 L322.76 107.48 L327.94 107.48 L327.94 110.66 L333.12 110.66 L333.12 113.35 L338.31 113.35 L338.31 117.51 L343.49 117.51 L343.49 120.62 L348.67 120.62 L348.67 125.05 L353.85 125.05 L353.85 129.6 L359.03 129.6 L359.03 134.11 L364.21 134.11 L364.21 138.64 L369.39 138.64 L369.39 143.07 L374.58 143.07 L374.58 147.8 L379.76 147.8 L379.76 153.1 L384.94 153.1 L384.94 158.14 L390.12 158.14 L390.12 164.34 L395.3 164.34 L395.3 170.5 L400.48 170.5 L400.48 176.17 L405.67 176.17 L405.67 182.62 L410.85 182.62 L410.85 187.94 L416.03 187.94 L416.03 194.37 L421.21 194.37 L421.21 200.81 L426.39 200.81 L426.39 209.57 L431.57 209.57 L431.57 214.56 L436.76 214.56 L436.76 223.87 L441.94 223.87 L441.94 226.86 L447.12 226.86 L447.12 240.62 L452.3 240.62 L452.3 245.8" stroke="#990099" fill="none" stroke-width="2.05" stroke-linejoin="miter"/>
</g>
<path d="M97.7 106.8 H129.2" stroke="#ee3311" stroke-width="2.05"/>
<path d="M97.7 124.6 H129.2" stroke="#3366ff" stroke-width="2.05"/>
<path d="M97.7 142 H129.2" stroke="#3366ff" stroke-width="2.05" stroke-dasharray="7.3 4.65"/>
<path d="M98.3 160 H129.2" stroke="#3366ff" stroke-width="2.3" stroke-dasharray="0.01 5.03" stroke-linecap="round"/>
<path d="M97.7 177.8 H129.2" stroke="#990099" stroke-width="2.05"/>
<g transform="translate(136.7 110.5)"><text transform="translate(0 0) scale(1.056 1)" font-size="14.3" fill="#000">Z</text><text transform="translate(9.23 0) scale(0.967 1)" font-size="14.3" fill="#000">(</text><text transform="translate(13.83 0) scale(0.977 1)" font-size="14.16" fill="#000">o</text><text transform="translate(20.75 0) scale(0.967 1)" font-size="14.3" fill="#000">)</text><text transform="translate(28.81 0) scale(1.039 1)" font-size="14.3" fill="#000">+</text><text transform="translate(40.65 0) scale(1.051 1)" font-size="14.3" fill="#000">P</text><text transform="translate(49.01 0) scale(1.056 1)" font-size="14.3" fill="#000">o</text><text transform="translate(56.56 0) scale(1.117 1)" font-size="14.3" fill="#000">w</text><text transform="translate(68.1 0) scale(1.044 1)" font-size="14.3" fill="#000">e</text><text transform="translate(74.72 0) scale(1.147 1)" font-size="14.3" fill="#000">r</text><text transform="translate(83.65 0) scale(0.913 1)" font-size="14.3" fill="#000">S</text><text transform="translate(90.91 0) scale(1.126 1)" font-size="14.3" fill="#000">h</text><text transform="translate(98.96 0) scale(1.056 1)" font-size="14.3" fill="#000">o</text><text transform="translate(106.51 0) scale(1.117 1)" font-size="14.3" fill="#000">w</text><text transform="translate(118.05 0) scale(1.044 1)" font-size="14.3" fill="#000">e</text><text transform="translate(124.67 0) scale(1.147 1)" font-size="14.3" fill="#000">r</text></g>
<g transform="translate(136.7 128.3)"><text transform="translate(0 0) scale(1.056 1)" font-size="14.3" fill="#000">Z</text><text transform="translate(9.23 0) scale(0.967 1)" font-size="14.3" fill="#000">(</text><text transform="translate(13.83 0) scale(0.977 1)" font-size="14.16" fill="#000">o</text><text transform="translate(20.75 0) scale(0.967 1)" font-size="14.3" fill="#000">,</text><text transform="translate(24.21 0) scale(1.437 1)" font-size="9.62" fill="#000">1</text><text transform="translate(31.12 0) scale(0.967 1)" font-size="14.3" fill="#000">)</text><text transform="translate(35.73 0) scale(0.967 1)" font-size="14.3" fill="#000">,</text><text transform="translate(42.65 0) scale(1.437 1)" font-size="9.62" fill="#000">1</text><text transform="translate(49.56 0) scale(0.977 1)" font-size="14.16" fill="#000">o</text><text transform="translate(56.48 0) scale(1.022 1)" font-size="14.3" fill="#000">G</text><text transform="translate(67.03 0) scale(1.044 1)" font-size="14.3" fill="#000">e</text><text transform="translate(73.66 0) scale(0.967 1)" font-size="14.3" fill="#000">V</text></g>
<g transform="translate(136.7 145.7)"><text transform="translate(0 0) scale(1.056 1)" font-size="14.3" fill="#000">Z</text><text transform="translate(9.23 0) scale(0.967 1)" font-size="14.3" fill="#000">(</text><text transform="translate(13.83 0) scale(0.977 1)" font-size="14.16" fill="#000">o</text><text transform="translate(20.75 0) scale(0.967 1)" font-size="14.3" fill="#000">,</text><text transform="translate(24.21 0) scale(1.437 1)" font-size="9.62" fill="#000">1</text><text transform="translate(31.12 0) scale(0.967 1)" font-size="14.3" fill="#000">)</text><text transform="translate(35.73 0) scale(0.967 1)" font-size="14.3" fill="#000">,</text><text transform="translate(42.65 0) scale(1.437 1)" font-size="9.62" fill="#000">2</text><text transform="translate(49.56 0) scale(0.977 1)" font-size="14.16" fill="#000">o</text><text transform="translate(56.48 0) scale(1.022 1)" font-size="14.3" fill="#000">G</text><text transform="translate(67.03 0) scale(1.044 1)" font-size="14.3" fill="#000">e</text><text transform="translate(73.66 0) scale(0.967 1)" font-size="14.3" fill="#000">V</text></g>
<g transform="translate(136.7 163.7)"><text transform="translate(0 0) scale(1.056 1)" font-size="14.3" fill="#000">Z</text><text transform="translate(9.23 0) scale(0.967 1)" font-size="14.3" fill="#000">(</text><text transform="translate(13.83 0) scale(0.977 1)" font-size="14.16" fill="#000">o</text><text transform="translate(20.75 0) scale(0.967 1)" font-size="14.3" fill="#000">,</text><text transform="translate(24.21 0) scale(1.437 1)" font-size="9.62" fill="#000">1</text><text transform="translate(31.12 0) scale(0.967 1)" font-size="14.3" fill="#000">)</text><text transform="translate(35.73 0) scale(0.967 1)" font-size="14.3" fill="#000">,</text><text transform="translate(42.65 3.02) scale(0.977 1)" font-size="14.16" fill="#000">5</text><text transform="translate(49.56 0) scale(1.022 1)" font-size="14.3" fill="#000">G</text><text transform="translate(60.12 0) scale(1.044 1)" font-size="14.3" fill="#000">e</text><text transform="translate(66.74 0) scale(0.967 1)" font-size="14.3" fill="#000">V</text></g>
<g transform="translate(136.7 181.5)"><text transform="translate(0 0) scale(1.056 1)" font-size="14.3" fill="#000">Z</text><text transform="translate(9.23 0) scale(0.967 1)" font-size="14.3" fill="#000">(</text><text transform="translate(13.83 0) scale(0.977 1)" font-size="14.16" fill="#000">o</text><text transform="translate(20.75 0) scale(0.967 1)" font-size="14.3" fill="#000">,</text><text transform="translate(24.21 0) scale(1.437 1)" font-size="9.62" fill="#000">1</text><text transform="translate(31.12 0) scale(0.967 1)" font-size="14.3" fill="#000">)</text><text transform="translate(35.73 0) scale(0.967 1)" font-size="14.3" fill="#000">,</text><text transform="translate(43.5 0) scale(1.177 1)" font-size="14.3" font-style="italic" fill="#000">σ</text><text transform="translate(52 2.2) scale(1.234 1)" font-size="9.72" font-style="italic" fill="#000">n</text><text transform="translate(58.2 2.2) scale(1.349 1)" font-size="9.72" fill="#000">+</text><text transform="translate(65.7 2.2) scale(1.028 1)" font-size="9.72" fill="#000">1</text><text transform="translate(75.7 0.9) scale(1.314 1)" font-size="14.3" fill="#000">=</text><text transform="translate(90.9 0) scale(1.193 1)" font-size="13.4" fill="#000">∑</text><text transform="translate(104.1 0) scale(0.951 1)" font-size="14.3" font-style="italic" fill="#000">d</text><text transform="translate(110.9 0) scale(1.248 1)" font-size="14.3" font-style="italic" fill="#000">σ</text><text transform="translate(120.7 -5) scale(1.374 1)" font-size="8.87" font-style="italic" fill="#000">D</text></g>
<g transform="translate(78.9 237.7)"><text transform="translate(0 0) scale(1.114 1)" font-size="14.3" fill="#8a8a8a">H</text><text transform="translate(11.51 0) scale(1.044 1)" font-size="14.3" fill="#8a8a8a">e</text><text transform="translate(18.13 0) scale(1.147 1)" font-size="14.3" fill="#8a8a8a">r</text><text transform="translate(23.6 0) scale(1.117 1)" font-size="14.3" fill="#8a8a8a">w</text><text transform="translate(35.13 0) scale(1.013 1)" font-size="14.3" fill="#8a8a8a">i</text><text transform="translate(39.16 0) scale(1.076 1)" font-size="14.3" fill="#8a8a8a">g</text><text transform="translate(50.31 3.02) scale(0.977 1)" font-size="14.16" fill="#8a8a8a">7</text><text transform="translate(57.23 0) scale(0.967 1)" font-size="14.3" fill="#8a8a8a">.</text><text transform="translate(60.68 0) scale(1.437 1)" font-size="9.62" fill="#8a8a8a">1</text></g>
<g transform="translate(78.9 250.3)"><text transform="translate(-0 0) scale(1.029 1)" font-size="8.6" fill="#9a9a9a">M</text><text transform="translate(7.87 0) scale(1.090 1)" font-size="8.6" fill="#9a9a9a">a</text><text transform="translate(12.03 0) scale(1.182 1)" font-size="8.6" fill="#9a9a9a">d</text><text transform="translate(17.11 0) scale(1.022 1)" font-size="8.6" fill="#9a9a9a">G</text><text transform="translate(23.46 0) scale(1.147 1)" font-size="8.6" fill="#9a9a9a">r</text><text transform="translate(26.75 0) scale(1.090 1)" font-size="8.6" fill="#9a9a9a">a</text><text transform="translate(30.91 0) scale(1.163 1)" font-size="8.6" fill="#9a9a9a">p</text><text transform="translate(35.91 0) scale(1.126 1)" font-size="8.6" fill="#9a9a9a">h</text><path d="M41.58 1.41 L44.96 -5.79" stroke="#9a9a9a" stroke-width="0.5" fill="none"/><text transform="translate(45.79 0) scale(1.053 1)" font-size="8.6" fill="#9a9a9a">O</text><text transform="translate(52.33 0) scale(1.163 1)" font-size="8.6" fill="#9a9a9a">p</text><text transform="translate(57.33 0) scale(1.044 1)" font-size="8.6" fill="#9a9a9a">e</text><text transform="translate(61.32 0) scale(1.126 1)" font-size="8.6" fill="#9a9a9a">n</text><text transform="translate(66.16 0) scale(0.968 1)" font-size="8.6" fill="#9a9a9a">L</text><text transform="translate(71.24 0) scale(1.056 1)" font-size="8.6" fill="#9a9a9a">o</text><text transform="translate(75.78 0) scale(1.056 1)" font-size="8.6" fill="#9a9a9a">o</text><text transform="translate(80.33 0) scale(1.163 1)" font-size="8.6" fill="#9a9a9a">p</text><text transform="translate(85.33 0) scale(1.054 1)" font-size="8.6" fill="#9a9a9a">s</text><path d="M89.68 1.41 L93.07 -5.79" stroke="#9a9a9a" stroke-width="0.5" fill="none"/><text transform="translate(93.9 0) scale(1.028 1)" font-size="8.6" fill="#9a9a9a">C</text><text transform="translate(99.79 0) scale(1.056 1)" font-size="8.6" fill="#9a9a9a">o</text><text transform="translate(104.34 0) scale(1.013 1)" font-size="8.6" fill="#9a9a9a">l</text><text transform="translate(106.76 0) scale(1.056 1)" font-size="8.6" fill="#9a9a9a">o</text><text transform="translate(111.3 0) scale(1.147 1)" font-size="8.6" fill="#9a9a9a">r</text><text transform="translate(114.59 0) scale(0.967 1)" font-size="8.6" fill="#9a9a9a">F</text><text transform="translate(119.21 0) scale(1.167 1)" font-size="8.6" fill="#9a9a9a">u</text><text transform="translate(124.23 0) scale(1.013 1)" font-size="8.6" fill="#9a9a9a">l</text><text transform="translate(126.65 0) scale(1.013 1)" font-size="8.6" fill="#9a9a9a">l</text></g>
<g transform="translate(57.8 15.7)"><text transform="translate(0 0) scale(1.145 1)" font-size="14.3" fill="#000">Z</text><text transform="translate(15 0) scale(1.063 1)" font-size="14.3" font-style="italic" fill="#000">p</text><path d="M22.5 2.6 h7.44 M26.22 2.6 v-6.48" stroke="#000" stroke-width="0.66" fill="none"/></g>
<g transform="translate(13.1 142.4) rotate(-90)"><text transform="translate(0 0) scale(1.035 1)" font-size="14.3" fill="#000">d</text><text transform="translate(6.8 0) scale(1.106 1)" font-size="14.3" font-style="italic" fill="#000">σ</text><path d="M17.57 2.34 L24.62 -9.62" stroke="#000" stroke-width="0.8" fill="none"/><text transform="translate(27.3 0) scale(1.175 1)" font-size="14.3" fill="#000">d</text><text transform="translate(36.4 0) scale(1.063 1)" font-size="14.3" font-style="italic" fill="#000">p</text><text transform="translate(44.7 -5.3) scale(1.065 1)" font-size="10.61" fill="#000">Z</text><path d="M44.2 3.8 h7.44 M47.92 3.8 v-6.48" stroke="#000" stroke-width="0.66" fill="none"/><text transform="translate(54.9 0) scale(0.967 1)" font-size="14.3" fill="#000">[</text><text transform="translate(59.51 0) scale(1.163 1)" font-size="14.3" fill="#000">p</text><text transform="translate(67.82 0) scale(1.070 1)" font-size="14.3" fill="#000">b</text><path d="M76.84 2.34 L82.48 -9.62" stroke="#000" stroke-width="0.8" fill="none"/><text transform="translate(83.85 0) scale(1.022 1)" font-size="14.3" fill="#000">G</text><text transform="translate(94.41 0) scale(1.044 1)" font-size="14.3" fill="#000">e</text><text transform="translate(101.03 0) scale(0.967 1)" font-size="14.3" fill="#000">V</text><text transform="translate(111.02 0) scale(0.967 1)" font-size="14.3" fill="#000">]</text></g>
<g transform="translate(17.9 323.5) rotate(-90) translate(-16.12 0)"><text transform="translate(0 0) scale(0.969 1)" font-size="14.3" fill="#000">R</text><text transform="translate(9.24 0) scale(1.090 1)" font-size="14.3" fill="#000">a</text><text transform="translate(16.16 0) scale(1.135 1)" font-size="14.3" fill="#000">t</text><text transform="translate(20.67 0) scale(1.013 1)" font-size="14.3" fill="#000">i</text><text transform="translate(24.69 0) scale(1.056 1)" font-size="14.3" fill="#000">o</text></g>
<g transform="translate(396 415.4)"><text transform="translate(0.2 0) scale(1.063 1)" font-size="14.3" font-style="italic" fill="#000">p</text><text transform="translate(8.2 -5.3) scale(1.065 1)" font-size="10.61" fill="#000">Z</text><path d="M8 4 h7.44 M11.72 4 v-6.48" stroke="#000" stroke-width="0.66" fill="none"/><text transform="translate(21.2 0) scale(0.931 1)" font-size="14.3" fill="#000">[</text><text transform="translate(25.63 0) scale(0.983 1)" font-size="14.3" fill="#000">G</text><text transform="translate(35.79 0) scale(1.004 1)" font-size="14.3" fill="#000">e</text><text transform="translate(42.16 0) scale(0.930 1)" font-size="14.3" fill="#000">V</text><text transform="translate(51.77 0) scale(0.931 1)" font-size="14.3" fill="#000">]</text></g>
<g transform="translate(50.3 239.95) translate(-27.26 0)"><text transform="translate(0 0) scale(1.437 1)" font-size="9.62" fill="#000">1</text><text transform="translate(6.92 0) scale(0.977 1)" font-size="14.16" fill="#000">o</text><text transform="translate(14.53 -4.8) scale(1.262 1)" font-size="10.4" fill="#000">−</text><text transform="translate(22.23 -2.6) scale(0.977 1)" font-size="10.3" fill="#000">4</text></g>
<g transform="translate(50.3 204.7) translate(-27.26 0)"><text transform="translate(0 0) scale(1.437 1)" font-size="9.62" fill="#000">1</text><text transform="translate(6.92 0) scale(0.977 1)" font-size="14.16" fill="#000">o</text><text transform="translate(14.53 -4.8) scale(1.262 1)" font-size="10.4" fill="#000">−</text><text transform="translate(22.23 -2.6) scale(0.977 1)" font-size="10.3" fill="#000">3</text></g>
<g transform="translate(50.3 169.45) translate(-27.26 0)"><text transform="translate(0 0) scale(1.437 1)" font-size="9.62" fill="#000">1</text><text transform="translate(6.92 0) scale(0.977 1)" font-size="14.16" fill="#000">o</text><text transform="translate(14.53 -4.8) scale(1.262 1)" font-size="10.4" fill="#000">−</text><text transform="translate(22.23 -4.8) scale(1.437 1)" font-size="7" fill="#000">2</text></g>
<g transform="translate(50.3 134.2) translate(-27.26 0)"><text transform="translate(0 0) scale(1.437 1)" font-size="9.62" fill="#000">1</text><text transform="translate(6.92 0) scale(0.977 1)" font-size="14.16" fill="#000">o</text><text transform="translate(14.53 -4.8) scale(1.262 1)" font-size="10.4" fill="#000">−</text><text transform="translate(22.23 -4.8) scale(1.437 1)" font-size="7" fill="#000">1</text></g>
<g transform="translate(51 96.7) translate(-6.92 0)"><text transform="translate(0 0) scale(1.437 1)" font-size="9.62" fill="#000">1</text></g>
<g transform="translate(50.9 63.1) translate(-21.26 0)"><text transform="translate(0 0) scale(1.437 1)" font-size="9.62" fill="#000">1</text><text transform="translate(6.92 0) scale(0.977 1)" font-size="14.16" fill="#000">o</text><text transform="translate(16.23 -4.8) scale(1.437 1)" font-size="7" fill="#000">1</text></g>
<g transform="translate(50.9 373.4) translate(-17.29 0)"><text transform="translate(0 0) scale(0.977 1)" font-size="14.16" fill="#000">o</text><text transform="translate(6.92 0) scale(0.967 1)" font-size="14.3" fill="#000">.</text><text transform="translate(10.37 0) scale(1.437 1)" font-size="9.62" fill="#000">2</text></g>
<g transform="translate(50.9 360.25) translate(-17.29 0)"><text transform="translate(0 0) scale(0.977 1)" font-size="14.16" fill="#000">o</text><text transform="translate(6.92 0) scale(0.967 1)" font-size="14.3" fill="#000">.</text><text transform="translate(10.37 3.02) scale(0.977 1)" font-size="14.16" fill="#000">4</text></g>
<g transform="translate(50.9 351.55) translate(-17.29 0)"><text transform="translate(0 0) scale(0.977 1)" font-size="14.16" fill="#000">o</text><text transform="translate(6.92 0) scale(0.967 1)" font-size="14.3" fill="#000">.</text><text transform="translate(10.37 0) scale(0.967 1)" font-size="14.3" fill="#000">6</text></g>
<g transform="translate(50.9 339.8) translate(-17.29 0)"><text transform="translate(0 0) scale(0.977 1)" font-size="14.16" fill="#000">o</text><text transform="translate(6.92 0) scale(0.967 1)" font-size="14.3" fill="#000">.</text><text transform="translate(10.37 0) scale(0.967 1)" font-size="14.3" fill="#000">8</text></g>
<g transform="translate(50.9 326.4) translate(-6.92 0)"><text transform="translate(0 0) scale(1.437 1)" font-size="9.62" fill="#000">1</text></g>
<g transform="translate(50.9 314.65) translate(-17.29 0)"><text transform="translate(0 0) scale(1.437 1)" font-size="9.62" fill="#000">1</text><text transform="translate(6.92 0) scale(0.967 1)" font-size="14.3" fill="#000">.</text><text transform="translate(10.37 0) scale(1.437 1)" font-size="9.62" fill="#000">2</text></g>
<g transform="translate(50.9 301.5) translate(-17.29 0)"><text transform="translate(0 0) scale(1.437 1)" font-size="9.62" fill="#000">1</text><text transform="translate(6.92 0) scale(0.967 1)" font-size="14.3" fill="#000">.</text><text transform="translate(10.37 3.02) scale(0.977 1)" font-size="14.16" fill="#000">4</text></g>
<g transform="translate(50.9 292.8) translate(-17.29 0)"><text transform="translate(0 0) scale(1.437 1)" font-size="9.62" fill="#000">1</text><text transform="translate(6.92 0) scale(0.967 1)" font-size="14.3" fill="#000">.</text><text transform="translate(10.37 0) scale(0.967 1)" font-size="14.3" fill="#000">6</text></g>
<g transform="translate(50.9 281.05) translate(-17.29 0)"><text transform="translate(0 0) scale(1.437 1)" font-size="9.62" fill="#000">1</text><text transform="translate(6.92 0) scale(0.967 1)" font-size="14.3" fill="#000">.</text><text transform="translate(10.37 0) scale(0.967 1)" font-size="14.3" fill="#000">8</text></g>
<g transform="translate(58.5 396.4) translate(-3.46 0)"><text transform="translate(0 0) scale(1.437 1)" font-size="9.62" fill="#000">1</text></g>
<g transform="translate(205.4 399.2) translate(-10.63 0)"><text transform="translate(0 0) scale(1.437 1)" font-size="9.62" fill="#000">1</text><text transform="translate(6.92 0) scale(0.977 1)" font-size="14.16" fill="#000">o</text><text transform="translate(16.23 -4.8) scale(1.437 1)" font-size="7" fill="#000">1</text></g>
<g transform="translate(351.3 399.2) translate(-10.63 0)"><text transform="translate(0 0) scale(1.437 1)" font-size="9.62" fill="#000">1</text><text transform="translate(6.92 0) scale(0.977 1)" font-size="14.16" fill="#000">o</text><text transform="translate(16.23 -4.8) scale(1.437 1)" font-size="7" fill="#000">2</text></g>
</svg>
</body></html>
